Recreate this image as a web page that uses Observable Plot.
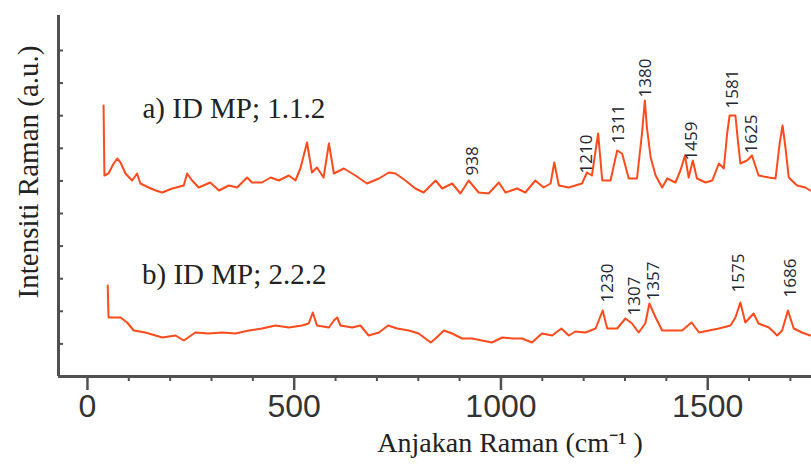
<!DOCTYPE html>
<html><head><meta charset="utf-8">
<script src="https://cdn.jsdelivr.net/npm/d3@7"></script>
<script src="https://cdn.jsdelivr.net/npm/@observablehq/plot@0.6"></script>
<style>body{margin:0;background:#fff}#chart svg{display:block}</style>
</head><body><div id="chart"></div>
<script>
// Spectrum a) ID MP; 1.1.2  — Raman shift (cm-1) and intensity (a.u.)
const shiftA = [39,41,51,62,72,80,92,108,120,128,148,165,181,205,233,241,253,269,297,318,342,362,386,398,422,443,463,487,503,515,531,543,555,571,584,596,620,648,676,705,729,745,769,793,813,842,858,882,902,922,946,970,995,1011,1039,1059,1083,1103,1120,1129,1140,1164,1180,1196,1208,1220,1235,1245,1265,1281,1293,1309,1329,1341,1348,1353,1362,1374,1390,1402,1422,1434,1445,1454,1464,1474,1495,1511,1527,1539,1547,1553,1567,1573,1579,1595,1607,1623,1648,1664,1674,1681,1688,1696,1716,1736,1748];
const intensityA = [271,201,203,212,218,214,203,196,203,193,189,186,184,188,191,203,196,189,194,186,191,189,199,194,194,199,196,201,196,208,234,204,209,199,233,203,208,201,193,198,204,203,196,188,184,196,188,193,183,196,184,183,194,184,188,184,196,189,193,214,191,189,191,193,204,201,243,196,196,226,223,198,198,243,276,249,219,201,189,198,194,206,221,199,216,198,194,196,213,208,243,261,261,236,213,216,221,201,199,198,233,251,229,199,191,189,186];

// Spectrum b) ID MP; 2.2.2
const shiftB = [49,51,80,96,112,140,181,213,233,261,293,326,358,390,422,455,487,519,535,545,555,584,596,604,612,640,660,680,705,727,749,777,801,830,842,862,882,906,930,954,978,1003,1027,1051,1075,1099,1124,1146,1164,1180,1204,1229,1246,1257,1281,1301,1317,1333,1349,1359,1374,1390,1414,1438,1461,1479,1503,1527,1555,1567,1579,1591,1611,1623,1648,1668,1680,1694,1708,1728,1748];
const intensityB = [91,59,59,54,46,44,39,41,36,44,43,44,43,46,48,51,49,51,53,64,51,49,56,59,51,49,51,41,44,51,48,46,43,34,38,46,43,38,38,36,34,39,38,38,34,43,41,48,41,45,44,48,66,48,48,58,53,44,53,73,59,46,46,46,54,44,46,48,51,59,74,54,63,53,49,41,46,66,48,44,41];

// Peak annotations (label text, anchor shift, anchor intensity)
const peakTextA = ["938","1210","1311","1380","1459","1581","1625"];
const peakShiftA = [931,1208,1285,1349,1462,1561,1605];
const peakIntA = [201,203,233,279,216,268,223];
const peakTextB = ["1230","1307","1357","1575","1686"];
const peakShiftB = [1257,1324,1370,1575,1700];
const peakIntB = [74,61,76,84,79];

// Sample labels
const sampleText = ["a) ID MP; 1.1.2","b) ID MP; 2.2.2"];
const sampleShift = [133,132];
const sampleInt = [268,102];

// Axis ticks
const xMajorTicks = [0,500,1000,1500];
const xMinorTicks = [100,200,300,400,600,700,800,900,1100,1200,1300,1400,1600,1700];
const yTicks = [32.6,65.2,97.8,130.4,163,195.6,228.2,260.8,293.4,326];
const xLabel = "Anjakan Raman (cm\u207B\u00B9 )";
const yLabel = "Intensiti Raman (a.u.)";

const specA = shiftA.map((x,i)=>({x, y:intensityA[i]}));
const specB = shiftB.map((x,i)=>({x, y:intensityB[i]}));
const peaks = [
  ...peakTextA.map((t,i)=>({t, x:peakShiftA[i], y:peakIntA[i]})),
  ...peakTextB.map((t,i)=>({t, x:peakShiftB[i], y:peakIntB[i]}))
];
const samples = sampleText.map((t,i)=>({t, x:sampleShift[i], y:sampleInt[i]}));

const lineColor = "#ff4a1c";
const axisColor = "#505050";

const chart = Plot.plot({
  width: 811, height: 464,
  marginLeft: 58, marginRight: 0, marginTop: 15, marginBottom: 88,
  x: {domain: [-70, 1751]},
  y: {domain: [0, 361]},
  style: {background: "white", overflow: "visible"},
  marks: [
    Plot.axisY({ticks: yTicks, tickSize: -5, tickFormat: () => "", stroke: axisColor, strokeWidth: 2, label: null}),
    Plot.axisX({ticks: xMinorTicks, tickSize: 5, tickFormat: () => "", stroke: axisColor, strokeWidth: 2, label: null}),
    Plot.axisX({ticks: xMajorTicks, tickSize: 14, tickPadding: 4, tickFormat: d => String(d), stroke: axisColor, strokeWidth: 2.5, fill: "#333", fontSize: 32, fontFamily: "Liberation Sans", label: null}),
    Plot.ruleX([-70], {stroke: axisColor, strokeWidth: 3}),
    Plot.ruleY([0], {stroke: axisColor, strokeWidth: 3}),
    Plot.line(specA, {x: "x", y: "y", stroke: lineColor, strokeWidth: 2, strokeLinejoin: "round"}),
    Plot.line(specB, {x: "x", y: "y", stroke: lineColor, strokeWidth: 2, strokeLinejoin: "round"}),
    Plot.text(peaks, {x: "x", y: "y", text: "t", rotate: -90, textAnchor: "start", fontFamily: "Open Sans", fontSize: 17, fill: "#222833"}),
    Plot.text(samples, {x: "x", y: "y", text: "t", textAnchor: "start", fontFamily: "Liberation Serif", fontSize: 29, fill: "#222"}),
    Plot.text([xLabel], {frameAnchor: "bottom", textAnchor: "middle", dx: 75, dy: 75, fontFamily: "Liberation Serif", fontSize: 28, fill: "#222"}),
    Plot.text([yLabel], {frameAnchor: "left", textAnchor: "middle", dx: -30, dy: -24, rotate: -90, fontFamily: "Liberation Serif", fontSize: 29, fill: "#222"})
  ]
});
document.getElementById("chart").appendChild(chart);
</script>
</body></html>
